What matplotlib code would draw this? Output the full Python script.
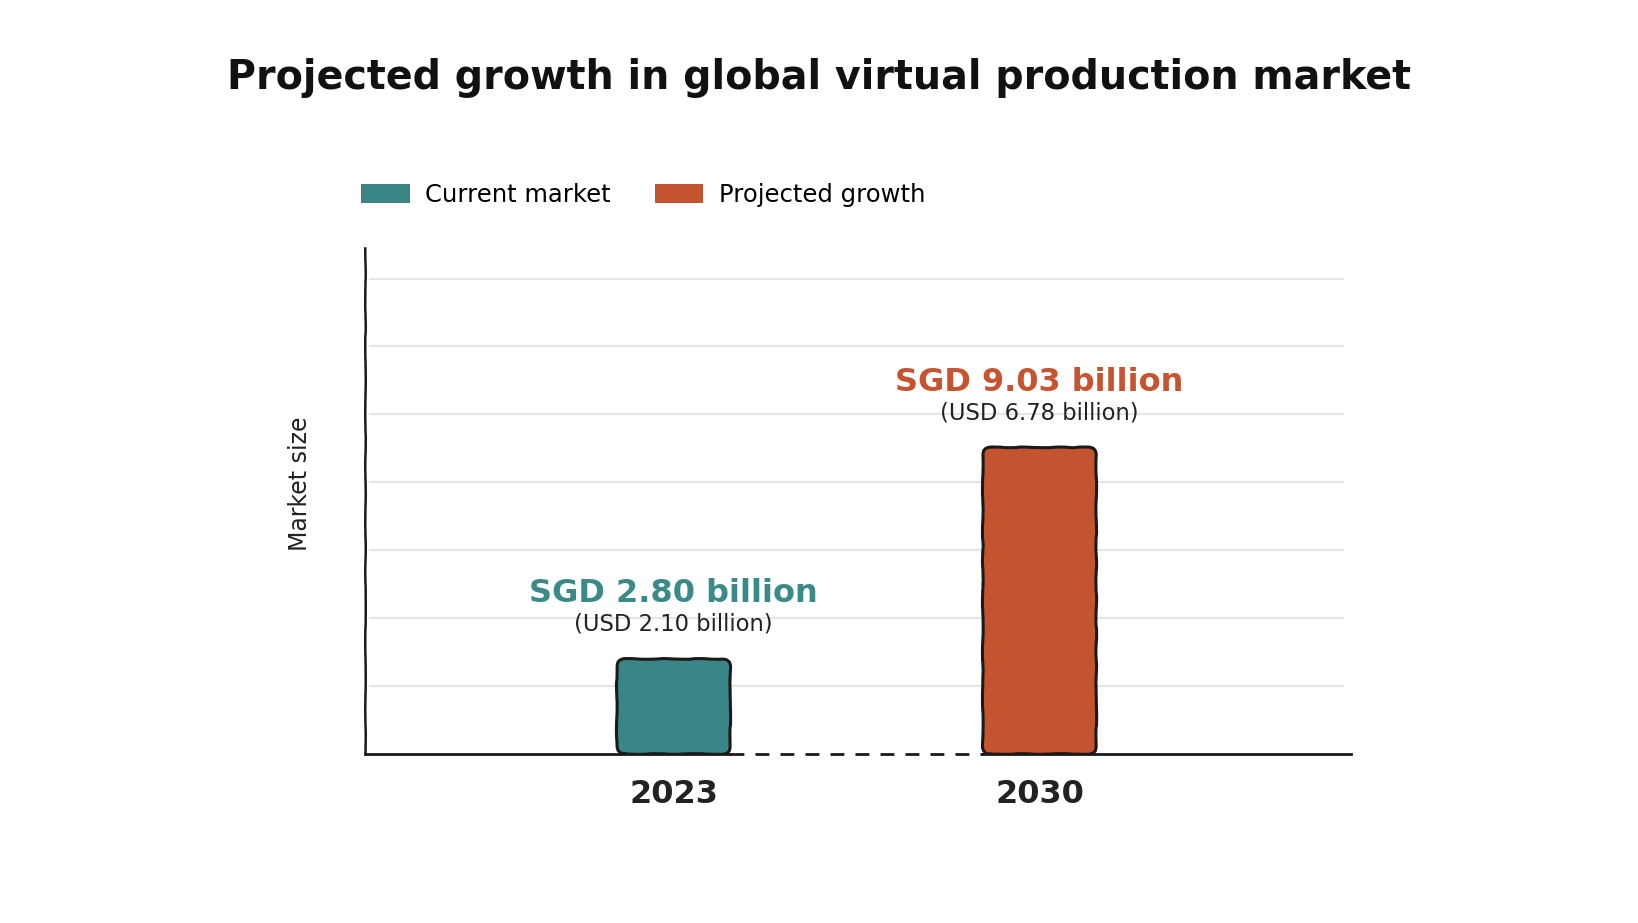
import matplotlib.pyplot as plt
import numpy as np
from matplotlib.patches import FancyBboxPatch, Patch

years = ['2023', '2030']
sgd_values = [2.80, 9.03]
usd_values = [2.10, 6.78]
series_names = ['Current market', 'Projected growth']
colors = ['#3A8686', '#C4532F']
text_colors = ['#3A8A8A', '#C65430']

plt.rcParams['font.family'] = ['DejaVu Sans']

fig = plt.figure(figsize=(16.38, 9.23), dpi=100)
fig.patch.set_facecolor('white')
ax = fig.add_axes([0.2228, 0.1831, 0.602, 0.5482])

x = np.arange(len(years))
width = 0.31
bars = ax.bar(x, sgd_values, width=width, color=colors)

ax.set_xlim(-0.843, 1.851)
ax.set_ylim(0, 14.9)

# swap the plain rectangles for rounded, slightly wobbly ones
for rect, c in zip(bars, colors):
    rect.set_visible(False)
    fb = FancyBboxPatch((rect.get_x(), rect.get_y()), rect.get_width(), rect.get_height(),
                        boxstyle='round,pad=0,rounding_size=0.022', mutation_aspect=10.76,
                        facecolor=c, edgecolor='#1a1a1a', linewidth=2.2, zorder=3)
    fb.set_sketch_params(scale=0.35, length=90, randomness=10)
    ax.add_patch(fb)

# gridlines
for yv in np.arange(2, 15, 2):
    ax.axhline(yv, xmin=0.005, xmax=0.992, color='#E6E6E6', linewidth=1.6, zorder=0)

# baseline: solid, dashed between the bars, solid again
left_edge = bars[0].get_x() + bars[0].get_width()
right_edge = bars[1].get_x()
ax.plot([ax.get_xlim()[0], left_edge], [0, 0], color='#1a1a1a', lw=2, zorder=4, clip_on=False)
ax.plot([left_edge, right_edge], [0, 0], color='#1a1a1a', lw=2, ls=(0, (5, 4)), zorder=4, clip_on=False)
ax.plot([right_edge, ax.get_xlim()[1]], [0, 0], color='#1a1a1a', lw=2, zorder=4, clip_on=False)

for s in ['top', 'right', 'bottom']:
    ax.spines[s].set_visible(False)
ax.spines['left'].set_color('#1a1a1a')
ax.spines['left'].set_linewidth(1.8)
ax.spines['left'].set_sketch_params(scale=0.25, length=120, randomness=8)

ax.set_yticks([])
ax.set_xticks(x)
ax.set_xticklabels(years, fontsize=23, fontweight='bold', color='#222222')
ax.tick_params(axis='x', length=0, pad=18)

ax.set_ylabel('Market size', fontsize=17, color='#222222')
ax.yaxis.set_label_coords(-0.054, 0.534)

for xi, sgd, usd, tc in zip(x, sgd_values, usd_values, text_colors):
    ax.annotate(f'SGD {sgd:.2f} billion', (xi, sgd), xytext=(0, 47), textcoords='offset points',
                ha='center', va='center', fontsize=23, fontweight='bold', color=tc)
    ax.annotate(f'(USD {usd:.2f} billion)', (xi, sgd), xytext=(0, 25), textcoords='offset points',
                ha='center', va='center', fontsize=16.3, color='#222222')

handles = [Patch(facecolor=c, edgecolor='none') for c in colors]
fig.legend(handles, series_names, loc='center left', bbox_to_anchor=(0.207, 0.789),
           ncol=2, frameon=False, fontsize=17.5, handlelength=2.0, handleheight=0.8,
           handletextpad=0.65, columnspacing=1.8)

fig.text(0.5, 0.916, 'Projected growth in global virtual production market',
         ha='center', va='center', fontsize=28.5, fontweight='bold', color='#111111')

fig.savefig('out.png', dpi=100, facecolor='white')
